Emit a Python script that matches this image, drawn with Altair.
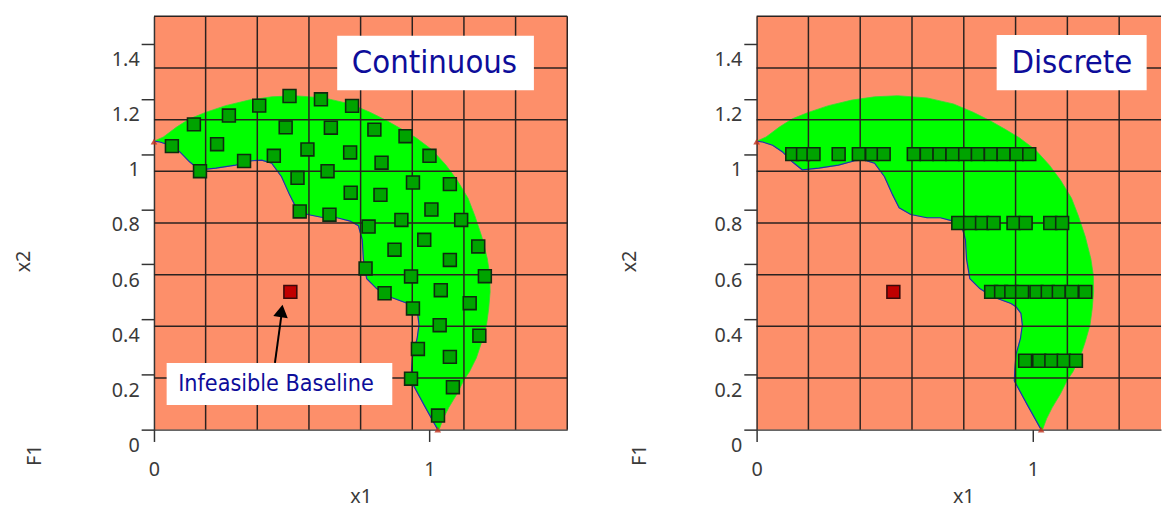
import altair as alt
import pandas as pd

# ---- feasible region outline (data units) ----
outer_x = [0.0, 0.034, 0.082, 0.129, 0.189, 0.26, 0.344, 0.427, 0.51, 0.617,
           0.713, 0.784, 0.844, 0.90, 0.95, 1.01, 1.06, 1.10, 1.14, 1.165,
           1.19, 1.21, 1.219, 1.22, 1.215, 1.207, 1.19, 1.17, 1.145, 1.125,
           1.10, 1.07, 1.05, 1.035]
outer_y = [1.047, 1.062, 1.098, 1.128, 1.152, 1.176, 1.196, 1.208, 1.212, 1.204,
           1.182, 1.152, 1.122, 1.09, 1.06, 1.015, 0.96, 0.906, 0.84, 0.775,
           0.70, 0.62, 0.56, 0.50, 0.44, 0.38, 0.32, 0.26, 0.21, 0.18,
           0.13, 0.08, 0.04, 0.0]
inner_x = [1.03, 0.98, 0.933, 0.935, 0.939, 0.955, 0.962, 0.957, 0.94, 0.921,
           0.855, 0.808, 0.772, 0.76, 0.756, 0.742, 0.712, 0.665, 0.617, 0.558,
           0.516, 0.492, 0.463, 0.427, 0.391, 0.355, 0.296, 0.225, 0.165, 0.129,
           0.094, 0.058, 0.022, 0.0]
inner_y = [0.0, 0.09, 0.177, 0.22, 0.272, 0.33, 0.38, 0.422, 0.445, 0.458,
           0.482, 0.512, 0.548, 0.619, 0.69, 0.74, 0.757, 0.769, 0.769, 0.781,
           0.805, 0.853, 0.918, 0.967, 0.978, 0.976, 0.96, 0.949, 0.943, 0.972,
           1.008, 1.032, 1.044, 1.047]

# small infeasible corner spots at the ends of the region
spot_x = [0.0, 1.03]
spot_y = [1.045, 0.0]

# ---- continuous design points ----
cont_x = [0.065, 0.145, 0.167, 0.229, 0.272, 0.327, 0.382, 0.435, 0.492, 0.478,
          0.521, 0.529, 0.557, 0.606, 0.642, 0.630, 0.637, 0.719, 0.712, 0.714,
          0.779, 0.800, 0.826, 0.822, 0.768, 0.837, 0.873, 0.898, 0.913, 0.940,
          0.933, 0.940, 0.958, 0.933, 1.000, 1.007, 0.981, 1.041, 1.037, 1.074,
          1.085, 1.031, 1.074, 1.074, 1.115, 1.146, 1.177, 1.201, 1.181]
cont_y = [1.029, 1.108, 0.938, 1.036, 1.140, 0.975, 1.176, 0.994, 1.211, 1.097,
          0.914, 0.792, 1.017, 1.199, 1.096, 0.938, 0.780, 1.175, 1.006, 0.860,
          0.737, 1.089, 0.969, 0.852, 0.585, 0.495, 0.653, 0.761, 1.065, 0.897,
          0.556, 0.440, 0.293, 0.185, 0.994, 0.799, 0.689, 0.506, 0.379, 0.264,
          0.154, 0.051, 0.891, 0.616, 0.761, 0.459, 0.665, 0.557, 0.341]

# ---- discrete design points ----
disc_x = [0.129, 0.168, 0.206, 0.297, 0.370, 0.418, 0.460, 0.569, 0.616, 0.662,
          0.709, 0.755, 0.801, 0.848, 0.894, 0.941, 0.987,
          0.730, 0.773, 0.816, 0.858, 0.930, 0.974, 1.063, 1.106,
          0.849, 0.885, 0.922, 0.961, 1.013, 1.054, 1.094, 1.141, 1.190,
          0.972, 1.023, 1.067, 1.112, 1.156]
disc_y = [1.0] * 17 + [0.75] * 8 + [0.5] * 9 + [0.25] * 5

base_x = [0.495]
base_y = [0.5]

grid_vals = [0.1875, 0.375, 0.5625, 0.75, 0.9375, 1.125, 1.3125, 1.5]
x_ticks = [0, 1]
y_ticks = [0, 0.2, 0.4, 0.6, 0.8, 1.0, 1.2, 1.4]

AXIS_FONT = "Noto Sans"
NOTE_FONT = "DejaVu Sans Condensed, Liberation Sans, sans-serif"
INK = "#3a3a3a"

region_df = pd.DataFrame({
    "x": outer_x + inner_x,
    "y": outer_y + inner_y,
    "i": list(range(len(outer_x) + len(inner_x))),
})
inner_df = pd.DataFrame({"x": inner_x, "y": inner_y, "i": list(range(len(inner_x)))})


def panel(px, py, xmax, width, note, note_box, note_xy, y_title_x, annotate):
    xs = alt.Scale(domain=[0, xmax], nice=False, zero=False)
    ys = alt.Scale(domain=[0, 1.5], nice=False, zero=False)
    xaxis = alt.Axis(values=x_ticks, format="~g", grid=False, title="x1",
                     tickSize=12, labelPadding=19, labelFlush=False,
                     titleX=209.5, titleY=58, titleAlign="center")
    yaxis = alt.Axis(values=y_ticks, format="~g", grid=False, title="x2",
                     tickSize=13, labelPadding=2, labelOffset=16,
                     titleX=y_title_x, titleY=248, titleAngle=270,
                     titleBaseline="middle", titleAlign="center")

    def X(f):
        return alt.X(f, type="quantitative", scale=xs, axis=xaxis)

    def Y(f):
        return alt.Y(f, type="quantitative", scale=ys, axis=yaxis)

    region = alt.Chart(region_df).mark_line(
        interpolate="linear-closed", fill="#00ff00", stroke="#2ee02e",
        strokeWidth=0.8).encode(x=X("x"), y=Y("y"), order="i:Q")
    inner = alt.Chart(inner_df).mark_line(
        color="#1f2fb0", strokeWidth=1.2).encode(x=X("x"), y=Y("y"), order="i:Q")
    spots = alt.Chart(pd.DataFrame({"x": spot_x, "y": spot_y})).mark_point(
        shape="triangle-up", filled=True, color="#c0301a", opacity=0.8,
        size=45).encode(x=X("x"), y=Y("y"))

    gdf = pd.DataFrame({"x": grid_vals, "y": grid_vals})
    vgrid = alt.Chart(gdf).mark_rule(color="#2a2220", strokeWidth=1.5).encode(
        x=X("x")).transform_filter(alt.datum.x <= xmax)
    hgrid = alt.Chart(gdf).mark_rule(color="#2a2220", strokeWidth=1.5).encode(
        y=Y("y"))

    pts = alt.Chart(pd.DataFrame({"x": px, "y": py})).mark_square(
        size=170, fill="#00a300", stroke="#0f2a0f", strokeWidth=1.6,
        opacity=1).encode(x=X("x"), y=Y("y"))
    base = alt.Chart(pd.DataFrame({"x": base_x, "y": base_y})).mark_square(
        size=170, fill="#c00000", stroke="#3a0a0a", strokeWidth=1.6,
        opacity=1).encode(x=X("x"), y=Y("y"))

    box = alt.Chart(pd.DataFrame({"x": [note_box[0]], "x2": [note_box[1]],
                                  "y": [note_box[2]], "y2": [note_box[3]]})
                    ).mark_rect(fill="white").encode(
        x=X("x"), x2="x2", y=Y("y"), y2="y2")
    txt = alt.Chart(pd.DataFrame({"x": [note_xy[0]], "y": [note_xy[1]], "t": [note]})
                    ).mark_text(font=NOTE_FONT, fontSize=33, color="#0d0d9a"
                                ).encode(x=X("x"), y=Y("y"), text="t:N")

    f1 = alt.Chart(pd.DataFrame({"t": ["F1"]})).mark_text(
        font=AXIS_FONT, fontSize=20, color=INK, angle=270).encode(
        x=alt.value(y_title_x + 11), y=alt.value(445), text="t:N")

    layers = [region, inner, spots, vgrid, hgrid, pts, base, box, txt, f1]

    if annotate:
        abox = alt.Chart(pd.DataFrame({"x": [0.046], "x2": [0.865],
                                       "y": [0.089], "y2": [0.242]})
                         ).mark_rect(fill="white").encode(
            x=X("x"), x2="x2", y=Y("y"), y2="y2")
        atxt = alt.Chart(pd.DataFrame({"x": [0.443], "y": [0.167],
                                       "t": ["Infeasible Baseline"]})
                         ).mark_text(font=NOTE_FONT, fontSize=23.5, color="#0d0d9a"
                                     ).encode(x=X("x"), y=Y("y"), text="t:N")
        shaft = alt.Chart(pd.DataFrame({"x": [0.439], "y": [0.242],
                                        "x2": [0.466], "y2": [0.44]})
                          ).mark_rule(color="black", strokeWidth=2).encode(
            x=X("x"), y=Y("y"), x2="x2", y2="y2")
        head = alt.Chart(pd.DataFrame({"x": [0.463], "y": [0.431]})).mark_point(
            shape="triangle-up", filled=True, color="black", opacity=1,
            size=220, angle=9).encode(x=X("x"), y=Y("y"))
        layers += [abox, atxt, shaft, head]

    return alt.layer(*layers).properties(width=width, height=419)


left = panel(cont_x, cont_y, 1.5, 419, "Continuous",
             (0.665, 1.379, 1.232, 1.430), (1.018, 1.33), -132, True)
right = panel(disc_x, disc_y, 1.464, 410, "Discrete",
              (0.869, 1.412, 1.232, 1.432), (1.141, 1.33), -129, False)

chart = alt.hconcat(left, right, spacing=52).properties(
    padding={"left": 6, "top": 4, "right": 0, "bottom": 0}
).configure_view(
    fill="#fd8f6a", strokeWidth=0
).configure_axis(
    labelFont=AXIS_FONT, labelFontSize=20, labelColor=INK,
    titleFont=AXIS_FONT, titleFontSize=20, titleColor=INK,
    titleFontWeight="normal", domainColor="#333333", tickColor="#333333",
    domainWidth=1.5, tickWidth=1.5
)

chart.save("out.html", embed_options={"renderer": "svg", "actions": False})
